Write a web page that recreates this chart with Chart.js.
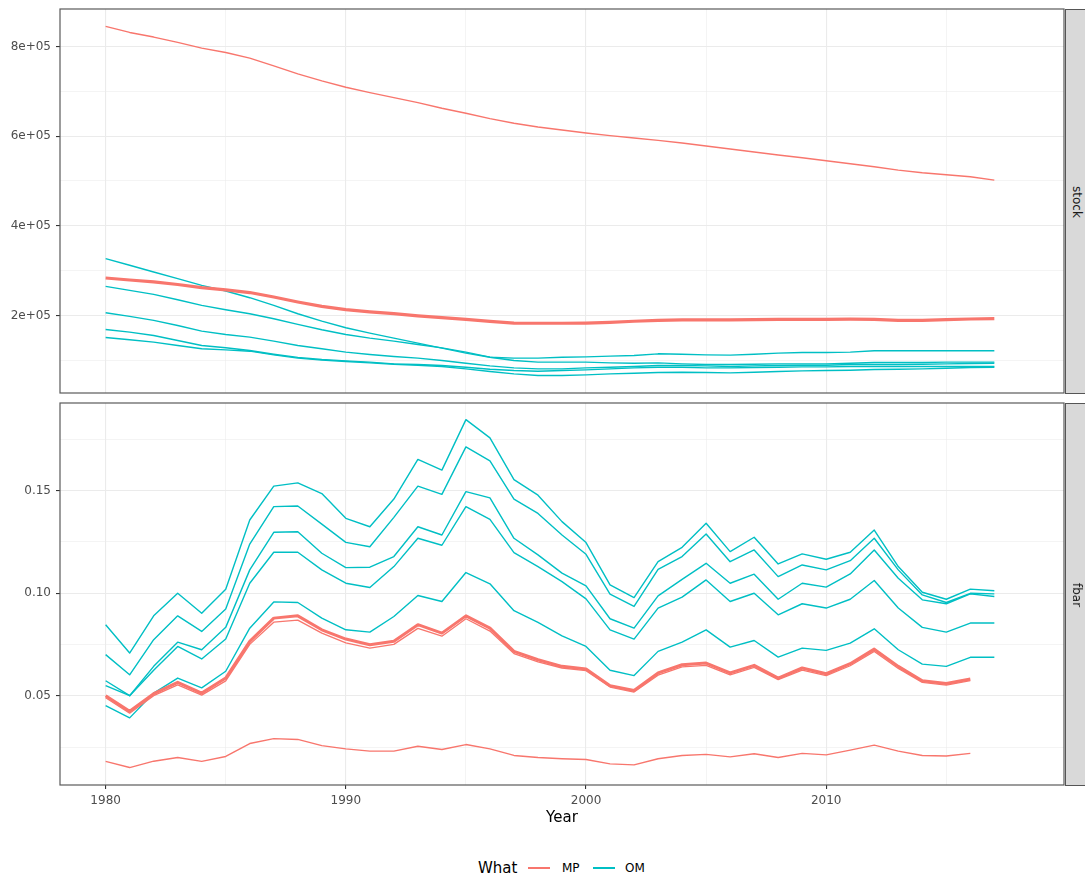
<!DOCTYPE html>
<html>
<head>
<meta charset="utf-8">
<title>stock and fbar by year</title>
<script src="https://cdn.jsdelivr.net/npm/chart.js@4.4.1/dist/chart.umd.min.js"></script>
<style>
  html, body { margin: 0; padding: 0; background: #fff; }
  body { position: relative; width: 1085px; height: 882px; overflow: hidden; font-family: "DejaVu Sans", sans-serif; }
  canvas { position: absolute; left: 0; }
  #stockChart { top: 0; }
  #fbarChart { top: 400px; }
  .strip { position: absolute; left: 1065px; width: 24px; background: #d9d9d9; border: 1px solid #555; box-sizing: border-box; }
  .strip span { position: absolute; left: 50%; top: 50%; transform: translate(-50%, -50%) rotate(90deg); font-size: 12px; color: #1a1a1a; white-space: nowrap; }
  .legend { position: absolute; top: 858px; left: 0; width: 1085px; height: 20px; color: #000; }
  .legend span { position: absolute; top: 0; line-height: 20px; white-space: nowrap; }
  .legend .key { position: absolute; top: 9px; height: 2px; width: 22px; }
</style>
</head>
<body>
<canvas id="stockChart" width="1085" height="400"></canvas>
<canvas id="fbarChart" width="1085" height="430"></canvas>
<div class="strip" style="top:9px;height:385px"><span>stock</span></div>
<div class="strip" style="top:403px;height:383px"><span>fbar</span></div>
<div class="legend">
  <span style="left:478px;font-size:15px">What</span>
  <div class="key" style="left:528px;background:#F8766D"></div>
  <span style="left:562px;font-size:12px">MP</span>
  <div class="key" style="left:593px;background:#00BFC4"></div>
  <span style="left:625px;font-size:12px">OM</span>
</div>
<script>
const years = [1980, 1981, 1982, 1983, 1984, 1985, 1986, 1987, 1988, 1989,
  1990, 1991, 1992, 1993, 1994, 1995, 1996, 1997, 1998, 1999,
  2000, 2001, 2002, 2003, 2004, 2005, 2006, 2007, 2008, 2009,
  2010, 2011, 2012, 2013, 2014, 2015, 2016, 2017];

// stock panel
const stockMpAlt = [844700, 831300, 821000, 809000, 796300, 786600, 773900, 756800, 738900, 723200,
  709100, 697100, 685900, 674800, 662100, 651000, 639000, 628600, 620400, 613700,
  607000, 601000, 595800, 590600, 584600, 577900, 571200, 564500, 557800, 551800,
  545100, 538400, 531700, 524200, 518300, 513800, 509300, 501900];
const stockMp = [283500, 279000, 275000, 269000, 262000, 257000, 251000, 241000, 230000, 220000,
  213000, 208000, 204000, 199000, 195000, 191000, 186500, 183000, 182500, 182500,
  183000, 184500, 187000, 189000, 190000, 190000, 190000, 190500, 191000, 191000,
  191000, 191500, 191000, 189000, 189000, 190500, 192000, 193000];
const stockOm1 = [326700, 311800, 296900, 282000, 267100, 254400, 239500, 222400, 203700, 187300,
  172400, 160500, 149300, 138100, 127000, 115800, 106800, 104600, 104600, 106800,
  107600, 109100, 110600, 114300, 113500, 112000, 111300, 113500, 115800, 117300,
  117300, 118000, 121000, 121000, 121000, 121000, 121000, 121000];
const stockOm2 = [264900, 255900, 247000, 235000, 222400, 212700, 203700, 192600, 179900, 167900,
  157500, 149300, 142600, 135200, 127700, 118000, 106800, 99400, 95700, 95700,
  95700, 94200, 93400, 94200, 91900, 90400, 90400, 91200, 91900, 91900,
  91900, 93400, 94900, 94900, 94900, 95700, 95700, 95700];
const stockOm3 = [206000, 197800, 188800, 177600, 165000, 157500, 151600, 142600, 132900, 125500,
  118000, 112800, 108300, 104600, 99400, 93400, 87400, 83000, 80700, 80700,
  83000, 84500, 86000, 88200, 88200, 87400, 86000, 87400, 88200, 88900,
  88900, 90400, 90400, 90400, 91200, 91900, 92700, 93400];
const stockOm4 = [168700, 162700, 155300, 144100, 132900, 127700, 121700, 113500, 106300, 101600,
  98600, 95700, 91900, 90400, 88200, 84500, 80000, 77000, 75500, 77000,
  78500, 80700, 83000, 84500, 84500, 83000, 83000, 83700, 84500, 85200,
  85200, 86000, 86000, 86000, 86000, 86000, 86000, 86000];
const stockOm5 = [150800, 145600, 140400, 132900, 125500, 123200, 120200, 112000, 104600, 100200,
  97200, 94200, 91200, 88900, 86000, 80700, 74800, 69600, 65800, 65800,
  67300, 69600, 71100, 72500, 73300, 72500, 71800, 73300, 74800, 76300,
  77000, 77800, 79200, 80000, 80700, 82200, 83700, 84500];

// fbar panel (MP series stop at 2016)
const fbarMpAlt = [0.0180, 0.0150, 0.0181, 0.0199, 0.0180, 0.0204, 0.0267, 0.0291, 0.0287, 0.0257,
  0.0241, 0.0230, 0.0230, 0.0254, 0.0238, 0.0262, 0.0241, 0.0209, 0.0199, 0.0193,
  0.0189, 0.0168, 0.0163, 0.0193, 0.0209, 0.0214, 0.0202, 0.0217, 0.0199, 0.0219,
  0.0212, 0.0235, 0.0259, 0.0230, 0.0209, 0.0206, 0.0219];
const fbarMp = [0.0500, 0.0424, 0.0510, 0.0565, 0.0513, 0.0586, 0.0765, 0.0878, 0.0889, 0.0821,
  0.0776, 0.0748, 0.0765, 0.0846, 0.0805, 0.0889, 0.0829, 0.0716, 0.0675, 0.0643,
  0.0630, 0.0549, 0.0525, 0.0611, 0.0651, 0.0659, 0.0611, 0.0648, 0.0586, 0.0635,
  0.0607, 0.0656, 0.0727, 0.0643, 0.0573, 0.0559, 0.0581];
const fbarMpLow = [0.0490, 0.0415, 0.0500, 0.0553, 0.0503, 0.0572, 0.0750, 0.0858, 0.0868, 0.0805,
  0.0757, 0.0732, 0.0750, 0.0828, 0.0790, 0.0875, 0.0815, 0.0705, 0.0665, 0.0635,
  0.0622, 0.0542, 0.0518, 0.0600, 0.0640, 0.0648, 0.0602, 0.0638, 0.0578, 0.0625,
  0.0598, 0.0646, 0.0716, 0.0633, 0.0565, 0.0552, 0.0574];
const fbarOm1 = [0.0846, 0.0708, 0.0889, 0.0999, 0.0902, 0.1019, 0.1356, 0.1521, 0.1537, 0.1485,
  0.1364, 0.1323, 0.1458, 0.1651, 0.1599, 0.1845, 0.1756, 0.1553, 0.1477, 0.1348,
  0.1246, 0.1040, 0.0978, 0.1153, 0.1223, 0.1340, 0.1202, 0.1272, 0.1142, 0.1191,
  0.1165, 0.1199, 0.1307, 0.1129, 0.1004, 0.0970, 0.1019, 0.1011];
const fbarOm2 = [0.0700, 0.0602, 0.0773, 0.0889, 0.0813, 0.0922, 0.1239, 0.1421, 0.1424, 0.1336,
  0.1247, 0.1226, 0.1369, 0.1521, 0.1481, 0.1712, 0.1644, 0.1458, 0.1388, 0.1283,
  0.1189, 0.0995, 0.0935, 0.1116, 0.1178, 0.1288, 0.1153, 0.1210, 0.1080, 0.1137,
  0.1113, 0.1158, 0.1267, 0.1113, 0.0991, 0.0954, 0.0999, 0.0996];
const fbarOm3 = [0.0573, 0.0500, 0.0643, 0.0761, 0.0724, 0.0833, 0.1113, 0.1296, 0.1299, 0.1194,
  0.1124, 0.1126, 0.1178, 0.1323, 0.1283, 0.1494, 0.1464, 0.1267, 0.1186, 0.1097,
  0.1035, 0.0875, 0.0829, 0.0986, 0.1067, 0.1145, 0.1048, 0.1092, 0.0970, 0.1048,
  0.1029, 0.1093, 0.1210, 0.1072, 0.0967, 0.0948, 0.0996, 0.0983];
const fbarOm4 = [0.0549, 0.0500, 0.0624, 0.0740, 0.0679, 0.0776, 0.1048, 0.1199, 0.1199, 0.1113,
  0.1048, 0.1027, 0.1129, 0.1267, 0.1233, 0.1421, 0.1359, 0.1197, 0.1129, 0.1056,
  0.0972, 0.0821, 0.0776, 0.0927, 0.0980, 0.1064, 0.0959, 0.0999, 0.0894, 0.0948,
  0.0927, 0.0970, 0.1061, 0.0927, 0.0833, 0.0810, 0.0854, 0.0854];
const fbarOm5 = [0.0452, 0.0392, 0.0513, 0.0586, 0.0538, 0.0619, 0.0829, 0.0957, 0.0954, 0.0878,
  0.0821, 0.0810, 0.0886, 0.0988, 0.0959, 0.1100, 0.1045, 0.0914, 0.0857, 0.0792,
  0.0740, 0.0624, 0.0598, 0.0716, 0.0761, 0.0821, 0.0737, 0.0769, 0.0688, 0.0732,
  0.0721, 0.0756, 0.0826, 0.0724, 0.0654, 0.0643, 0.0687, 0.0687];

// breaks
const yearMajor = [1980, 1990, 2000, 2010];
const yearMinor = [1985, 1995, 2005, 2015];
const stockMajor = [200000, 400000, 600000, 800000];
const stockMinor = [100000, 300000, 500000, 700000];
const fbarMajor = [0.05, 0.10, 0.15];
const fbarMinor = [0.025, 0.075, 0.125, 0.175];

// axis limits (data range plus 5% either side)
const X_MIN = 1978.1, X_MAX = 2019.9;
const STOCK_MIN = 26900, STOCK_MAX = 883600;
const FBAR_MIN = 0.0065, FBAR_MAX = 0.1926;

const MP_COLOUR = '#F8766D';
const OM_COLOUR = '#00BFC4';
const GRID = '#ebebeb';
const TEXT_FONT = { family: 'DejaVu Sans', size: 12 };

const toPoints = vals => vals.map((v, i) => ({ x: years[i], y: v }));
const series = (vals, colour, width) => ({
  data: toPoints(vals),
  borderColor: colour,
  borderWidth: width,
  borderJoinStyle: 'round',
  pointRadius: 0,
  pointHoverRadius: 0,
  fill: false,
  tension: 0
});

// fixed box size, and no extra room for labels poking past the ends
const fixSize = (w, h) => s => {
  if (w !== null) s.width = w;
  if (h !== null) s.height = h;
  s.paddingTop = s.paddingBottom = s.paddingLeft = s.paddingRight = 0;
};

// linear axis with fixed major/minor breaks; minor breaks get a thin grid line only
function axis(min, max, major, minor, label, extra) {
  const all = major.concat(minor).sort((a, b) => a - b);
  const isMajor = c => !!c.tick && major.includes(c.tick.value);
  return Object.assign({
    type: 'linear',
    min: min,
    max: max,
    border: { display: false },
    afterBuildTicks: s => { s.ticks = all.map(v => ({ value: v })); },
    grid: {
      color: GRID,
      lineWidth: c => isMajor(c) ? 1.1 : 0.55,
      tickColor: c => isMajor(c) ? '#333333' : 'rgba(0,0,0,0)',
      tickWidth: 1.1,
      tickLength: 4,
      drawTicks: label !== null
    },
    ticks: {
      display: label !== null,
      autoSkip: false,
      maxRotation: 0,
      padding: 5,
      color: '#4d4d4d',
      font: TEXT_FONT,
      callback: v => (label && major.includes(v)) ? label(v) : ''
    }
  }, extra);
}

// frame round each panel, drawn over the lines
const panelBorder = {
  id: 'panelBorder',
  afterDraw(chart) {
    const { ctx, chartArea: a } = chart;
    ctx.save();
    ctx.strokeStyle = '#5a5a5a';
    ctx.lineWidth = 1.2;
    ctx.strokeRect(a.left, a.top, a.right - a.left, a.bottom - a.top);
    ctx.restore();
  }
};

const common = {
  responsive: false,
  animation: false,
  devicePixelRatio: 1,
  events: [],
  plugins: { legend: { display: false }, tooltip: { enabled: false } }
};

new Chart(document.getElementById('stockChart'), {
  type: 'line',
  data: {
    datasets: [
      series(stockMp, MP_COLOUR, 3.2),
      series(stockMpAlt, MP_COLOUR, 1.4),
      series(stockOm1, OM_COLOUR, 1.4),
      series(stockOm2, OM_COLOUR, 1.4),
      series(stockOm3, OM_COLOUR, 1.4),
      series(stockOm4, OM_COLOUR, 1.4),
      series(stockOm5, OM_COLOUR, 1.4)
    ]
  },
  options: Object.assign({}, common, {
    layout: { padding: { top: 9, right: 21, bottom: 7, left: 0 } },
    scales: {
      x: axis(X_MIN, X_MAX, yearMajor, yearMinor, null, { afterFit: fixSize(null, 0) }),
      y: axis(STOCK_MIN, STOCK_MAX, stockMajor, stockMinor, v => (v / 100000) + 'e+05',
        { afterFit: fixSize(60, null) })
    }
  }),
  plugins: [panelBorder]
});

new Chart(document.getElementById('fbarChart'), {
  type: 'line',
  data: {
    datasets: [
      series(fbarMp, MP_COLOUR, 3),
      series(fbarMpLow, MP_COLOUR, 1.3),
      series(fbarMpAlt, MP_COLOUR, 1.4),
      series(fbarOm1, OM_COLOUR, 1.4),
      series(fbarOm2, OM_COLOUR, 1.4),
      series(fbarOm3, OM_COLOUR, 1.4),
      series(fbarOm4, OM_COLOUR, 1.4),
      series(fbarOm5, OM_COLOUR, 1.4)
    ]
  },
  options: Object.assign({}, common, {
    layout: { padding: { top: 3, right: 21, bottom: 0, left: 0 } },
    scales: {
      x: axis(X_MIN, X_MAX, yearMajor, yearMinor, v => String(v), {
        afterFit: fixSize(null, 45),
        title: {
          display: true,
          text: 'Year',
          color: '#000',
          font: { family: 'DejaVu Sans', size: 15 },
          padding: { top: 0, bottom: 3 }
        }
      }),
      y: axis(FBAR_MIN, FBAR_MAX, fbarMajor, fbarMinor, v => v.toFixed(2),
        { afterFit: fixSize(60, null) })
    }
  }),
  plugins: [panelBorder]
});
</script>
</body>
</html>
